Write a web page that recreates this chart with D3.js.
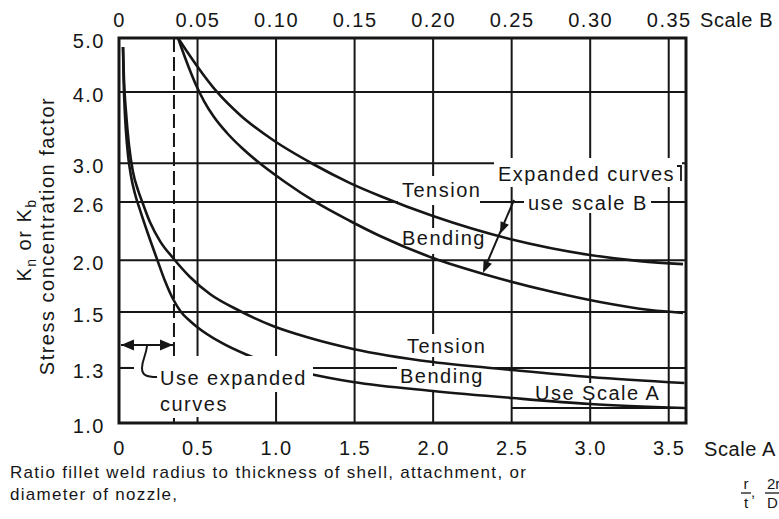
<!DOCTYPE html>
<html><head><meta charset="utf-8">
<script src="https://cdn.jsdelivr.net/npm/d3@7"></script>
<style>
html,body{margin:0;padding:0;background:#fff;}
svg{display:block;font-family:"Liberation Sans",Arial,Helvetica,sans-serif;}
</style></head><body>
<svg id="chart" width="779" height="519"></svg>
<script>
// ---------- data ----------
const scaleATicks  = [0, 0.5, 1.0, 1.5, 2.0, 2.5, 3.0, 3.5];
const scaleALabels = ["0","0.5","1.0","1.5","2.0","2.5","3.0","3.5"];
const scaleBTicks  = [0, 0.05, 0.10, 0.15, 0.20, 0.25, 0.30, 0.35];
const scaleBLabels = ["0","0.05","0.10","0.15","0.20","0.25","0.30","0.35"];
const kTicks  = [1.0, 1.3, 1.5, 2.0, 2.6, 3.0, 4.0, 5.0];
const kLabels = ["1.0","1.3","1.5","2.0","2.6","3.0","4.0","5.0"];
const kGrid   = [1.3, 1.5, 2.0, 2.6, 3.0, 4.0];
// printed (non-uniform) K axis: value stops and their fraction of plot height
const kStops = [1.0, 1.1, 1.3, 1.5, 2.0, 2.6, 3.0, 4.0, 5.0];
const kFrac  = [0, 0.039, 0.143, 0.288, 0.423, 0.574, 0.675, 0.860, 1];

// Scale A curves (r/t)
const tensionA_r = [0.0255,0.0318,0.0446,0.0637,0.0891,0.121,0.153,0.197,0.261,0.344,0.452,0.579,0.770,0.980,1.216,1.490,1.999,2.502,2.999,3.6];
const tensionA_k = [4.833,4.221,3.718,3.254,2.908,2.723,2.579,2.393,2.197,2.022,1.838,1.674,1.511,1.450,1.407,1.368,1.321,1.290,1.255,1.225];
const bendingA_r = [0.0255,0.0287,0.035,0.0446,0.0573,0.0764,0.102,0.134,0.185,0.242,0.293,0.344,0.395,0.452,0.497,0.643,0.802,0.942,1.216,1.490,1.999,2.502,2.999,3.6];
const bendingA_k = [4.833,4.314,3.816,3.437,3.114,2.867,2.682,2.517,2.270,2.011,1.799,1.626,1.501,1.468,1.447,1.393,1.350,1.321,1.270,1.230,1.185,1.150,1.120,1.100];
// Expanded curves (scale B)
const tensionB_r = [0.03757,0.04393,0.04966,0.0624,0.07704,0.09805,0.1235,0.1471,0.1662,0.1999,0.2489,0.2999,0.3317,0.3591];
const tensionB_k = [5.0,4.722,4.481,3.999,3.676,3.324,2.991,2.795,2.662,2.455,2.218,2.053,1.991,1.962];
const bendingB_r = [0.03757,0.04075,0.04457,0.04903,0.05412,0.06049,0.06876,0.07831,0.08786,0.1057,0.1261,0.1471,0.1662,0.1999,0.2343,0.2763,0.3062,0.3381,0.3591];
const bendingB_k = [5.0,4.740,4.443,4.128,3.872,3.647,3.423,3.212,3.029,2.806,2.590,2.404,2.249,2.022,1.857,1.693,1.597,1.520,1.497];

// ---------- layout ----------
const INK = "#161616";
const plot = {left:119, right:686, top:38, bottom:423};
const svg = d3.select("#chart");

const xA = d3.scaleLinear().domain([0, 3.61]).range([plot.left, plot.right]);
const xB = d3.scaleLinear().domain([0, 0.361]).range([plot.left, plot.right]);
const y  = d3.scaleLinear().domain(kStops)
  .range(kFrac.map(f => plot.bottom - f * (plot.bottom - plot.top)));

const labelFont = {size: 20, ls: 1.5};

// ---------- grid ----------
const grid = svg.append("g").attr("stroke", INK).attr("stroke-width", 2).attr("fill","none");
grid.selectAll("line.v").data(scaleATicks.filter(d => d > 0)).join("line")
  .attr("x1", d => xA(d)).attr("x2", d => xA(d))
  .attr("y1", plot.top).attr("y2", plot.bottom);
grid.selectAll("line.h").data(kGrid).join("line")
  .attr("x1", plot.left).attr("x2", plot.right)
  .attr("y1", d => y(d)).attr("y2", d => y(d));
grid.append("line").attr("x1", xA(2.5)).attr("x2", plot.right)
  .attr("y1", y(1.1)).attr("y2", y(1.1));
grid.append("line").attr("x1", xA(0.35)).attr("x2", xA(0.35))
  .attr("y1", plot.top).attr("y2", plot.bottom)
  .attr("stroke-dasharray", "14,5");

// ---------- white label boxes under curves ----------
const boxes = [
  [398,176,82,29],   // Tension B
  [399,228,87,26],   // Bending B
  [494,158,188,29],  // Expanded curves
  [524,187,127,26],  // use scale B
  [404,334,82,23],   // Tension A
  [397,366,90,25],   // Bending A
  [531,383,135,17]   // Use Scale A
];
svg.append("g").selectAll("rect").data(boxes).join("rect")
  .attr("x", d => d[0]).attr("y", d => d[1]).attr("width", d => d[2]).attr("height", d => d[3])
  .attr("fill", "#fff");

// ---------- curves ----------
const line = (xs) => d3.line().x(d => xs(d[0])).y(d => y(d[1])).curve(d3.curveMonotoneX);
const curves = [
  {r: tensionA_r, k: tensionA_k, xs: xA},
  {r: bendingA_r, k: bendingA_k, xs: xA},
  {r: tensionB_r, k: tensionB_k, xs: xB},
  {r: bendingB_r, k: bendingB_k, xs: xB}
];
svg.append("g").selectAll("path").data(curves).join("path")
  .attr("d", c => line(c.xs)(c.r.map((r, i) => [r, c.k[i]])))
  .attr("fill", "none").attr("stroke", INK).attr("stroke-width", 2.6)
  .attr("stroke-linejoin", "round");

// box above curves for the "Use expanded curves" note
svg.append("g").selectAll("rect").data([[134,356,179,36],[134,392,98,25]]).join("rect")
  .attr("x", d => d[0]).attr("y", d => d[1]).attr("width", d => d[2]).attr("height", d => d[3])
  .attr("fill", "#fff");

// ---------- frame ----------
svg.append("rect").attr("x", plot.left).attr("y", plot.top)
  .attr("width", plot.right - plot.left).attr("height", plot.bottom - plot.top)
  .attr("fill", "none").attr("stroke", INK).attr("stroke-width", 3);
svg.append("line").attr("x1", plot.left).attr("x2", plot.left + 12)
  .attr("y1", y(1.3)).attr("y2", y(1.3)).attr("stroke", INK).attr("stroke-width", 2);

// ---------- axes ----------
function styleAxis(g) {
  g.select(".domain").remove();
  g.attr("font-size", null).attr("font-family", null);
  g.selectAll("text").attr("fill", INK).style("font-size", labelFont.size + "px")
    .style("letter-spacing", labelFont.ls + "px");
}
svg.append("g").attr("transform", `translate(0,${plot.bottom})`)
  .call(d3.axisBottom(xA).tickValues(scaleATicks).tickFormat((d, i) => scaleALabels[i]).tickSize(0).tickPadding(18))
  .call(styleAxis);
svg.append("g").attr("transform", `translate(0,${plot.top})`)
  .call(d3.axisTop(xB).tickValues(scaleBTicks).tickFormat((d, i) => scaleBLabels[i]).tickSize(0).tickPadding(11))
  .call(styleAxis);
svg.append("g").attr("transform", `translate(${plot.left},3)`)
  .call(d3.axisLeft(y).tickValues(kTicks).tickFormat((d, i) => kLabels[i]).tickSize(0).tickPadding(14))
  .call(styleAxis);

// ---------- texts ----------
const texts = [
  ["Tension", 402, 197],
  ["Bending", 402, 245],
  ["Expanded curves", 498, 181],
  ["use scale B", 528, 210],
  ["Tension", 407, 353],
  ["Bending", 400, 383],
  ["Use Scale A", 535, 400],
  ["Use expanded", 160, 385],
  ["curves", 160, 411]
];
svg.append("g").selectAll("text").data(texts).join("text")
  .attr("x", d => d[1]).attr("y", d => d[2]).text(d => d[0])
  .attr("fill", INK).style("font-size", labelFont.size + "px").style("letter-spacing", labelFont.ls + "px");
svg.append("g").selectAll("text").data([["Scale B", 700, 27], ["Scale A", 704, 456]]).join("text")
  .attr("x", d => d[1]).attr("y", d => d[2]).text(d => d[0])
  .attr("fill", INK).style("font-size", "20px").style("letter-spacing", "0.6px");

// y-axis titles
const yt = svg.append("text").attr("transform", "translate(31,240) rotate(-90)")
  .attr("text-anchor", "middle").attr("fill", INK)
  .style("font-size", "20px").style("letter-spacing", "1.5px");
yt.append("tspan").text("K");
yt.append("tspan").text("n").attr("dy", 5).style("font-size", "14px");
yt.append("tspan").text(" or K").attr("dy", -5);
yt.append("tspan").text("b").attr("dy", 5).style("font-size", "14px");
svg.append("text").attr("transform", "translate(54,236) rotate(-90)")
  .attr("text-anchor", "middle").attr("fill", INK)
  .style("font-size", "20px").style("letter-spacing", "1.5px")
  .text("Stress concentration factor");

// bottom description
const desc = [
  ["Ratio fillet weld radius to thickness of shell, attachment, or", 478],
  ["diameter of nozzle,", 500]
];
svg.append("g").selectAll("text").data(desc).join("text")
  .attr("x", 10).attr("y", d => d[1]).text(d => d[0])
  .attr("fill", INK).style("font-size", "17px").style("letter-spacing", "1.3px");

// fraction r/t, 2r/D (runs to the right edge as in the original)
const fr = svg.append("g").attr("fill", INK).style("font-size", "15px");
fr.append("text").attr("x", 746).attr("y", 489).attr("text-anchor","middle").text("r");
fr.append("text").attr("x", 746).attr("y", 508).attr("text-anchor","middle").text("t");
fr.append("text").attr("x", 751).attr("y", 497).text(",");
fr.append("text").attr("x", 767).attr("y", 489).text("2r");
fr.append("text").attr("x", 767).attr("y", 508).text("D");
fr.append("line").attr("x1", 741).attr("x2", 751).attr("y1", 493).attr("y2", 493).attr("stroke", INK).attr("stroke-width", 1.3);
fr.append("line").attr("x1", 765).attr("x2", 790).attr("y1", 493).attr("y2", 493).attr("stroke", INK).attr("stroke-width", 1.3);

// ---------- arrows & brackets ----------
function head(tx, ty, dx, dy, len, hw) {
  const n = Math.hypot(dx, dy), ux = dx / n, uy = dy / n;
  const bx = tx - ux * len, by = ty - uy * len;
  return `M${tx},${ty}L${bx - uy * hw},${by + ux * hw}L${bx + uy * hw},${by - ux * hw}Z`;
}
const ann = svg.append("g").attr("stroke", INK).attr("fill", INK);
const ay = 345, ax0 = xA(0) + 2, ax1 = xA(0.35) - 1;
ann.append("line").attr("x1", ax0).attr("x2", ax1).attr("y1", ay).attr("y2", ay).attr("stroke-width", 2);
ann.append("path").attr("d", head(ax0, ay, -1, 0, 13, 5.5)).attr("stroke", "none");
ann.append("path").attr("d", head(ax1, ay, 1, 0, 13, 5.5)).attr("stroke", "none");
ann.append("path").attr("d", "M147,346 C146,356 142,360 142,368 C142,375 146,377 157,377")
  .attr("fill", "none").attr("stroke-width", 2);
ann.append("line").attr("x1", 514).attr("y1", 200).attr("x2", 484).attr("y2", 270).attr("stroke-width", 2);
ann.append("path").attr("d", head(483, 273, -31, 72, 12, 4.5)).attr("stroke", "none");
ann.append("path").attr("d", head(500, 234, -31, 72, 12, 4.5)).attr("stroke", "none");
ann.append("path").attr("d", "M677,166 L681,166 L681,181").attr("fill", "none").attr("stroke-width", 1.8);
</script>
</body></html>
